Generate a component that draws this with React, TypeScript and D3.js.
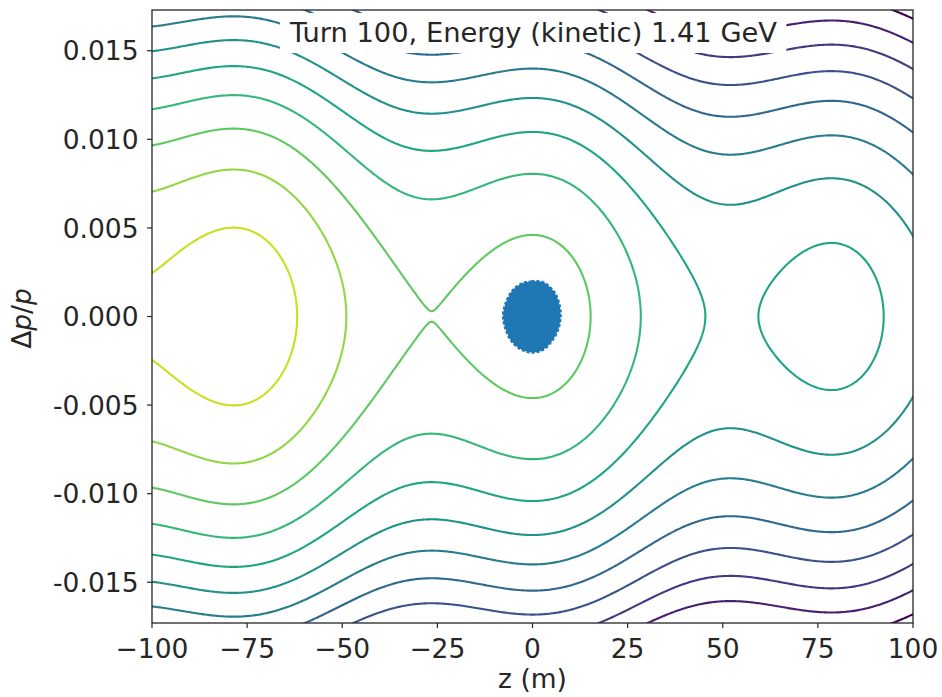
import React, { useRef, useEffect } from "react";
import * as d3 from "d3";

// axis ranges and ticks
const Z_RANGE = [-100, 100];
const DP_RANGE = [-0.0173, 0.0173];
const X_TICKS = [-100, -75, -50, -25, 0, 25, 50, 75, 100];
const X_TICK_LABELS = ["−100", "−75", "−50", "−25", "0", "25", "50", "75", "100"];
const Y_TICKS = [-0.015, -0.01, -0.005, 0, 0.005, 0.01, 0.015];
const Y_TICK_LABELS = ["-0.015", "-0.010", "-0.005", "0.000", "0.005", "0.010", "0.015"];

// RF bucket (PS, h = 8): period in z, synchronous phase, kinetic coefficient
const BUCKET_PERIOD = 78.54;
const PHI_S = 0.51;
const KINETIC = 33610;

// Hamiltonian levels of the drawn contours, and the colour range of the levels
const LEVELS = [3.094, 1.627, 0.16, -1.307, -2.774, -4.241, -5.708, -7.175, -8.642, -10.109, -11.576, -13.043];
const COLOR_RANGE = [-13.043, 4.561];

// outline of the particle cloud at turn 100
const BLOB_Z = [-2.47, -0.26, 2.79, 5.86, 7.17, 7.36, 6.73, 4.99, 2.79, 0.16, -2.47, -5.1, -6.83, -7.73, -7.02, -5.1];
const BLOB_DP = [0.00189, 0.00198, 0.00193, 0.00133, 0.00057, 0.0, -0.00075, -0.00141, -0.00187, -0.00203, -0.00191, -0.0015, -0.00084, 0.0, 0.00076, 0.00151];

const TITLE = "Turn 100, Energy (kinetic) 1.41 GeV";

const hamiltonian = (z: number, dp: number) => {
  const phi = (2 * Math.PI * z) / BUCKET_PERIOD;
  return Math.cos(phi - PHI_S) - phi * Math.sin(PHI_S) - KINETIC * dp * dp;
};

const PhaseSpace = () => {
  const svgRef = useRef<SVGSVGElement>(null);

  useEffect(() => {
    const svg = d3.select(svgRef.current);
    const width = 942;
    const height = 697;
    const margin = { top: 10, right: 29, bottom: 74, left: 152 };
    const font = "DejaVu Sans, sans-serif";
    const ink = "#262626";
    const tickSize = 26.5;

    svg.attr("width", width).attr("height", height);
    svg.selectAll("*").remove();

    const x = d3.scaleLinear().domain(Z_RANGE).range([margin.left, width - margin.right]);
    const y = d3.scaleLinear().domain(DP_RANGE).range([height - margin.bottom, margin.top]);
    const color = d3.scaleSequential(d3.interpolateViridis).domain(COLOR_RANGE);

    svg
      .append("defs")
      .append("clipPath")
      .attr("id", "plot-clip")
      .append("rect")
      .attr("x", margin.left)
      .attr("y", margin.top)
      .attr("width", width - margin.left - margin.right)
      .attr("height", height - margin.top - margin.bottom);

    // Hamiltonian on a grid a bit larger than the view, so the grid border gets clipped
    const nx = 521;
    const ny = 381;
    const z0 = -104, z1 = 104;
    const d0 = -0.019, d1 = 0.019;
    const dz = (z1 - z0) / (nx - 1);
    const dd = (d1 - d0) / (ny - 1);
    const values = new Array(nx * ny);
    for (let j = 0; j < ny; j++) {
      for (let i = 0; i < nx; i++) {
        values[j * nx + i] = hamiltonian(z0 + i * dz, d0 + j * dd);
      }
    }
    const contours = d3.contours().size([nx, ny]).thresholds(LEVELS)(values);
    const proj = d3.geoTransform({
      point(px: number, py: number) {
        this.stream.point(x(z0 + (px - 0.5) * dz), y(d0 + (py - 0.5) * dd));
      },
    });
    const path = d3.geoPath(proj);

    svg
      .append("g")
      .attr("clip-path", "url(#plot-clip)")
      .selectAll("path")
      .data(contours)
      .join("path")
      .attr("d", (d) => path(d))
      .attr("fill", "none")
      .attr("stroke", (d) => color(d.value))
      .attr("stroke-width", 2.1)
      .attr("stroke-linejoin", "round");

    // particle cloud
    const blob = BLOB_Z.map((z, i) => [x(z), y(BLOB_DP[i])] as [number, number]);
    svg
      .append("path")
      .attr("d", d3.line().curve(d3.curveCatmullRomClosed)(blob))
      .attr("fill", "#1f77b4")
      .attr("stroke", "#1f77b4")
      .attr("stroke-width", 2.5)
      .attr("stroke-dasharray", "3 2");

    // title in a white box
    const titleG = svg.append("g");
    const titleBox = titleG.append("rect").attr("fill", "white");
    const title = titleG
      .append("text")
      .attr("x", (margin.left + width - margin.right) / 2 + 1)
      .attr("y", 41.7)
      .attr("text-anchor", "middle")
      .attr("font-family", font)
      .attr("font-size", 27.3)
      .attr("fill", ink)
      .text(TITLE);
    const bb = (title.node() as SVGTextElement).getBBox();
    titleBox
      .attr("x", bb.x - 9)
      .attr("y", 13)
      .attr("width", bb.width + 18)
      .attr("height", 40)
      .attr("rx", 3);

    // frame
    svg
      .append("rect")
      .attr("x", margin.left)
      .attr("y", margin.top)
      .attr("width", width - margin.left - margin.right)
      .attr("height", height - margin.top - margin.bottom)
      .attr("fill", "none")
      .attr("stroke", ink)
      .attr("stroke-width", 1.3);

    // X Axis
    const xAxis = svg.append("g").attr("class", "x-axis");
    X_TICKS.forEach((t, i) => {
      xAxis
        .append("line")
        .attr("x1", x(t))
        .attr("x2", x(t))
        .attr("y1", height - margin.bottom)
        .attr("y2", height - margin.bottom + 5)
        .attr("stroke", ink)
        .attr("stroke-width", 1.2);
      xAxis
        .append("text")
        .attr("x", x(t))
        .attr("y", 657.5)
        .attr("text-anchor", "middle")
        .attr("font-family", font)
        .attr("font-size", tickSize)
        .attr("fill", ink)
        .text(X_TICK_LABELS[i]);
    });

    // Y Axis
    const yAxis = svg.append("g").attr("class", "y-axis");
    Y_TICKS.forEach((t, i) => {
      yAxis
        .append("line")
        .attr("x1", margin.left - 5)
        .attr("x2", margin.left)
        .attr("y1", y(t))
        .attr("y2", y(t))
        .attr("stroke", ink)
        .attr("stroke-width", 1.2);
      yAxis
        .append("text")
        .attr("x", 138.5)
        .attr("y", y(t) + 9.6)
        .attr("text-anchor", "end")
        .attr("font-family", font)
        .attr("font-size", tickSize)
        .attr("fill", ink)
        .text(Y_TICK_LABELS[i]);
    });

    // axis labels
    svg
      .append("text")
      .attr("x", (margin.left + width - margin.right) / 2)
      .attr("y", 688)
      .attr("text-anchor", "middle")
      .attr("font-family", font)
      .attr("font-size", tickSize)
      .attr("fill", ink)
      .text("z (m)");

    const yl = svg
      .append("text")
      .attr("transform", `translate(31,${y(0) + 2}) rotate(-90)`)
      .attr("text-anchor", "middle")
      .attr("font-family", font)
      .attr("font-size", tickSize)
      .attr("fill", ink);
    yl.append("tspan").text("Δ");
    yl.append("tspan").attr("font-style", "italic").text("p");
    yl.append("tspan").text("/");
    yl.append("tspan").attr("font-style", "italic").text("p");
  }, []);

  return <svg ref={svgRef} style={{ position: "absolute", left: 0, top: 0, display: "block" }}></svg>;
};

export default function App() {
  return <PhaseSpace />;
}
